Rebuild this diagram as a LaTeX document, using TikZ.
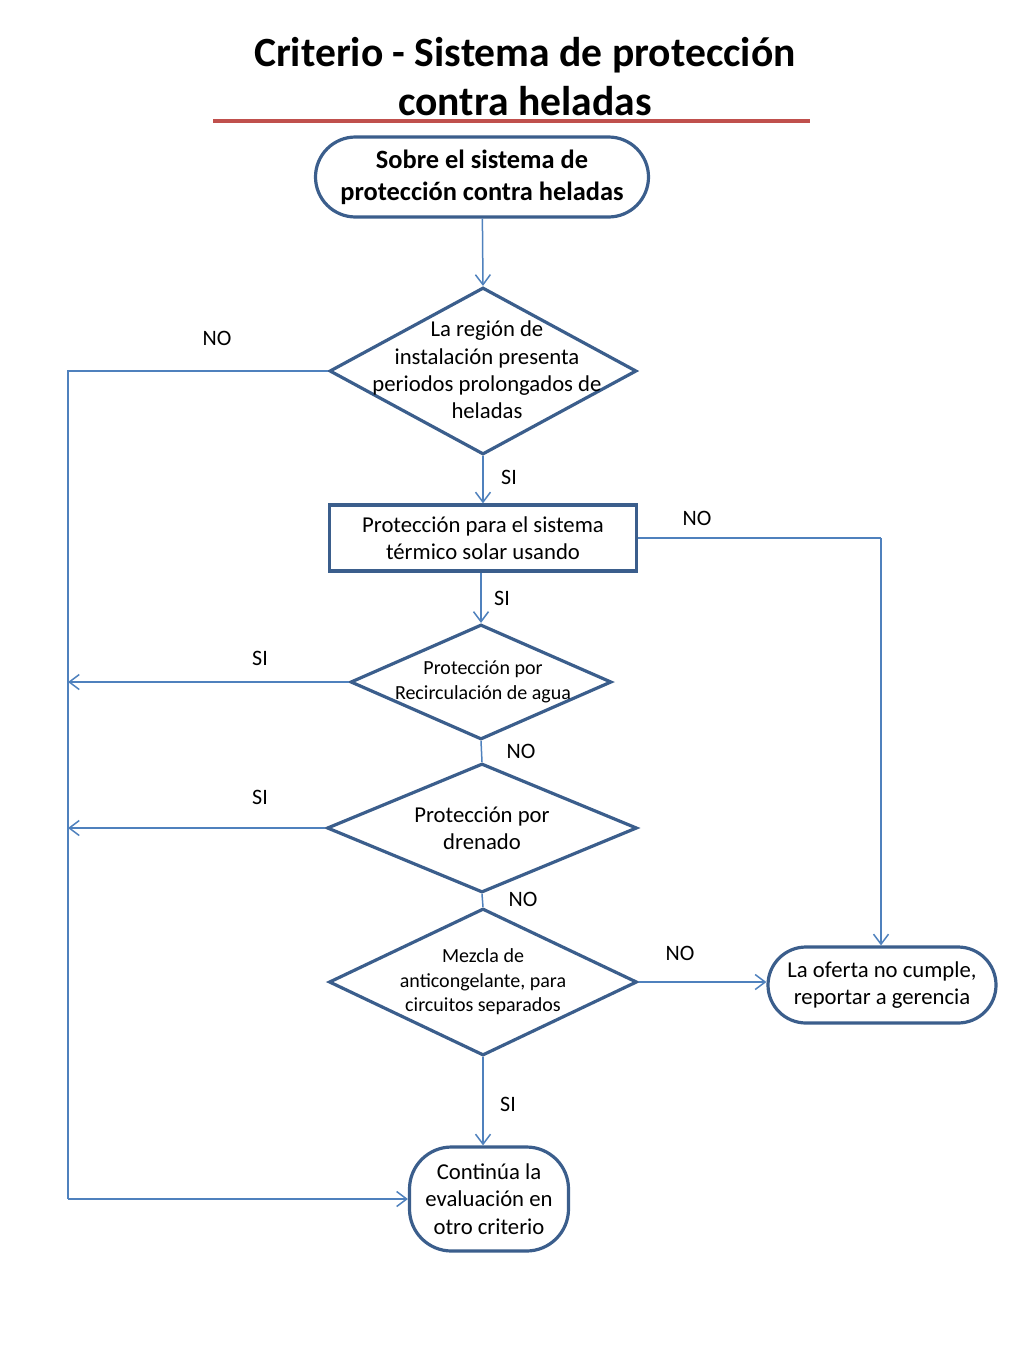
\documentclass[tikz,border=0pt]{standalone}
\usepackage{fontspec}
\setmainfont{Carlito}
\usetikzlibrary{arrows.meta,shapes.geometric}
\definecolor{bordc}{HTML}{3B5E8C}
\definecolor{linec}{HTML}{4F81BD}
\definecolor{titlered}{HTML}{C0504D}
\tikzset{
  boxline/.style={draw=bordc, line width=3.2pt, fill=white},
  term/.style={boxline, rectangle, inner sep=0pt},
  dia/.style={boxline, diamond, inner sep=0pt},
  conn/.style={draw=linec, line width=1.5pt},
  arr/.style={conn, -{Straight Barb[length=10pt,width=15pt,line width=1.5pt]}},
  lbl/.style={font=\fontsize{22}{26}\selectfont, inner sep=0pt},
  txt/.style={align=center, font=\fontsize{22.7}{27.3}\selectfont, inner sep=0pt},
  stxt/.style={align=center, font=\fontsize{20}{24.5}\selectfont, inner sep=0pt}
}
\begin{document}
\begin{tikzpicture}[x=1pt,y=-1pt]
\useasboundingbox (0,0) rectangle (1024,1365);
% title
\node[align=center, font=\fontsize{41.6}{49}\bfseries\selectfont, inner sep=0pt] (title) at (525,77) {Criterio - Sistema de protección\\contra heladas};
\coordinate (tl) at (213,121);
\coordinate (tr) at (810,121);
\draw[draw=titlered, line width=4pt] (tl) -- (tr);
% nodes
\node[term, rounded corners=40pt, minimum width=333pt, minimum height=80pt,
      align=center, font=\fontsize{26.4}{32}\bfseries\selectfont] (start) at (482,177) {Sobre el sistema de\\protección contra heladas};
\node[dia, minimum width=307pt, minimum height=167pt,
      label={[txt,xshift=4pt,yshift=1pt]center:La región de\\instalación presenta\\periodos prolongados de\\heladas}] (d1) at (483,371) {};
\node[term, minimum width=307pt, minimum height=66pt, txt] (rect) at (483,538) {Protección para el sistema\\térmico solar usando};
\node[dia, minimum width=261pt, minimum height=115pt,
      label={[stxt,xshift=2pt]center:Protección por\\Recirculación de agua}] (d2) at (481,682) {};
\node[dia, minimum width=310pt, minimum height=129pt,
      label={[txt]center:Protección por\\drenado}] (d3) at (482,828) {};
\node[dia, minimum width=308pt, minimum height=147pt,
      label={[stxt]center:Mezcla de\\anticongelante, para\\circuitos separados}] (d4) at (483,982) {};
\node[term, rounded corners=38pt, minimum width=228pt, minimum height=76pt, txt] (oferta) at (882,985) {La oferta no cumple,\\reportar a gerencia};
\node[term, rounded corners=42pt, minimum width=159pt, minimum height=104pt, txt] (cont) at (489,1199) {Continúa la\\evaluación en\\otro criterio};
% coordinates
\coordinate (L1) at (68,371);
\coordinate (L2) at (68,1199);
\coordinate (L3) at (68,682);
\coordinate (L4) at (68,828);
\coordinate (R1) at (881,538);
% connectors
\draw[arr] (start) -- (d1.north);
\draw[arr] (d1.south) -- (rect.north);
\draw[conn] (d1.west) -- (L1) -- (L2);
\draw[arr] (L2) -- (cont.west);
\draw[conn] (rect.east) -- (R1);
\draw[arr] (R1) -- (oferta.north -| R1);
\draw[arr] (rect.south -| d2.north) -- (d2.north);
\draw[arr] (d2.west) -- (L3);
\draw[conn] (d2.south) -- (d3.north);
\draw[arr] (d3.west) -- (L4);
\draw[conn] (d3.south) -- (d4.north);
\draw[arr] (d4.east) -- (oferta.west |- d4.east);
\draw[arr] (d4.south) -- (cont.north -| d4.south);
% labels
\node[lbl] (n1) at (217,338) {NO};
\node[lbl] (s1) at (509,477) {SI};
\node[lbl] (n2) at (697,518) {NO};
\node[lbl] (s2) at (502,598) {SI};
\node[lbl] (s3) at (260,658) {SI};
\node[lbl] (n3) at (521,751) {NO};
\node[lbl] (s4) at (260,797) {SI};
\node[lbl] (n4) at (523,899) {NO};
\node[lbl] (n5) at (680,953) {NO};
\node[lbl] (s5) at (508,1104) {SI};
\end{tikzpicture}
\end{document}
